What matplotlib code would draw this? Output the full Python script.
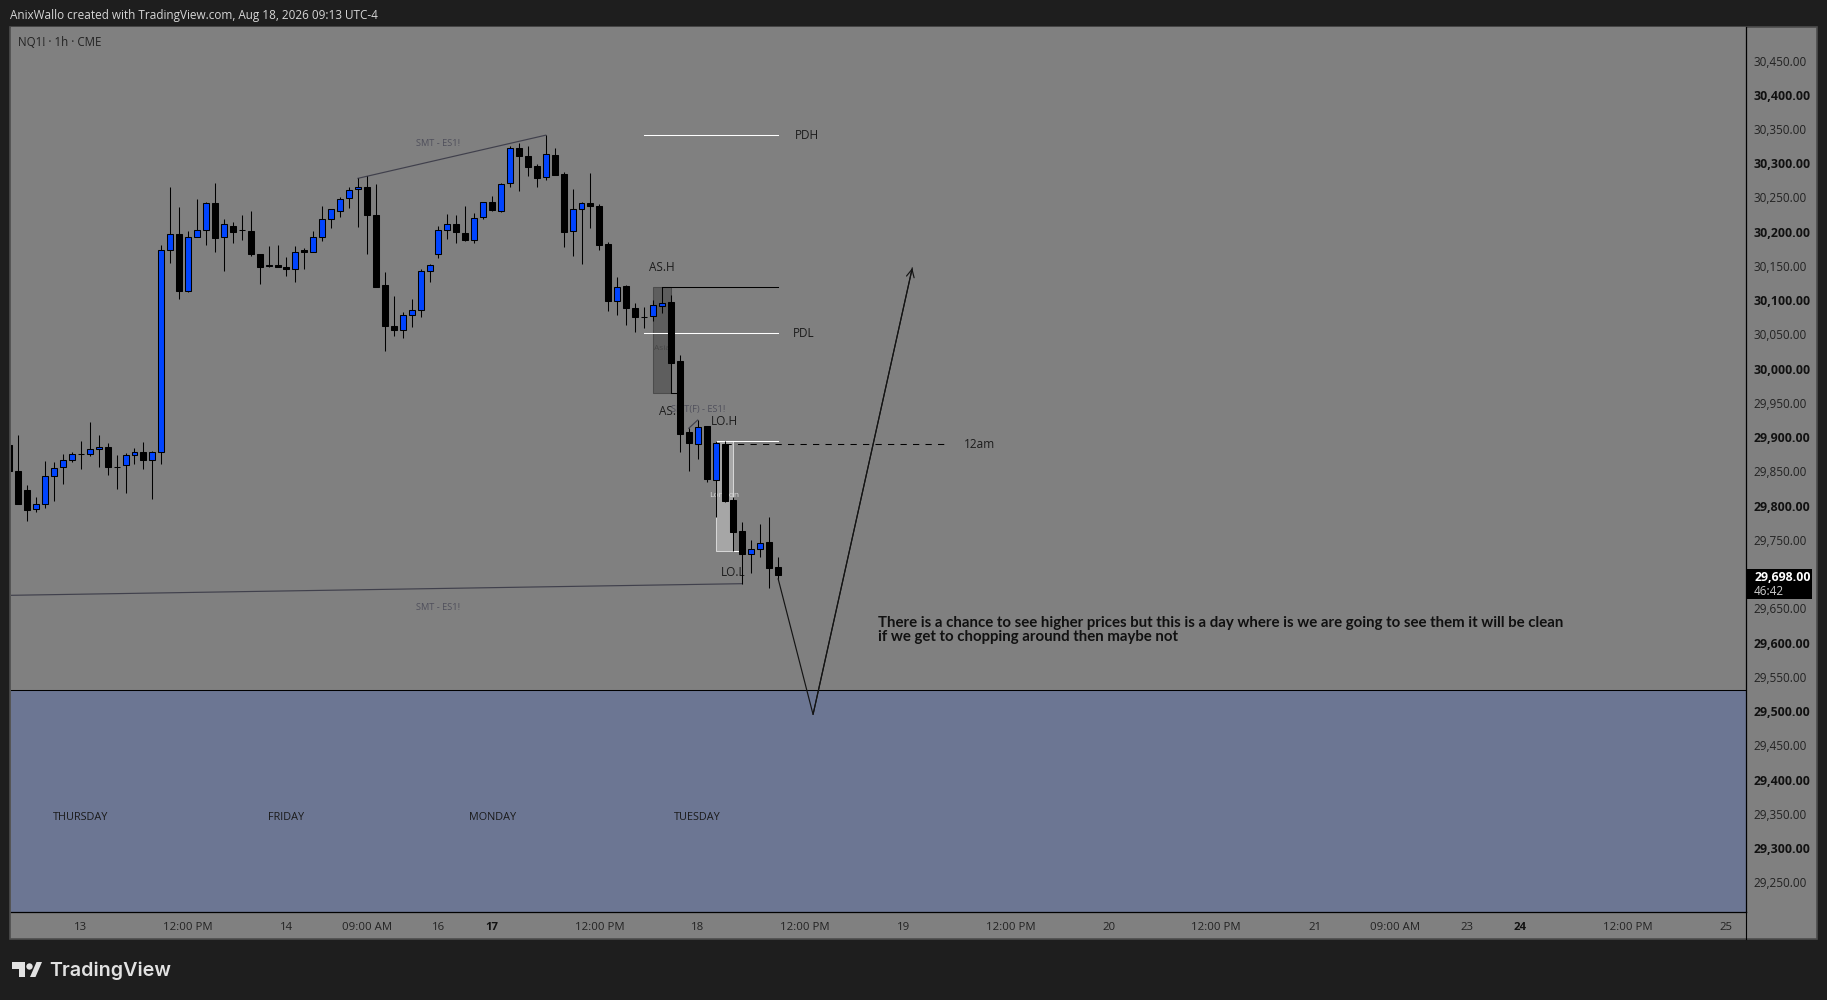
"""
NQ1! 1h candlestick chart with session markup, TradingView screenshot style
"""
import numpy as np
import matplotlib.pyplot as plt
from matplotlib.patches import Rectangle, Polygon

plt.rcParams['font.family'] = ['Open Sans', 'DejaVu Sans']
plt.rcParams['font.size'] = 8.5

# Candles, first one is cut off by the left edge of the chart
opens = [29889, 29851, 29823, 29795, 29802, 29843, 29856, 29866, 29876, 29876, 29882, 29886,
         29857, 29859, 29874, 29879, 29866, 29878, 30173, 30196, 30114, 30192, 30202, 30242,
         30192, 30208, 30202, 30201, 30167, 30150, 30151, 30149, 30145, 30173, 30171, 30192,
         30218, 30231, 30249, 30262, 30266, 30224, 30122, 30063, 30056, 30078, 30085, 30142,
         30167, 30202, 30212, 30198, 30188, 30221, 30244, 30231, 30271, 30322, 30310, 30296,
         30280, 30312, 30284, 30201, 30233, 30242, 30238, 30182, 30099, 30121, 30089, 30076,
         30077, 30091, 30097, 30011, 29908, 29890, 29916, 29838, 29890, 29808, 29763, 29729,
         29736, 29747, 29710]
highs = [29889, 29903, 29830, 29813, 29865, 29864, 29875, 29878, 29894, 29922, 29903, 29892,
         29874, 29877, 29884, 29893, 29880, 30181, 30265, 30236, 30201, 30248, 30243, 30271,
         30219, 30214, 30225, 30230, 30167, 30179, 30181, 30163, 30179, 30176, 30201, 30238,
         30233, 30250, 30265, 30278, 30281, 30270, 30141, 30106, 30083, 30102, 30146, 30153,
         30209, 30226, 30225, 30238, 30228, 30244, 30252, 30271, 30325, 30330, 30325, 30299,
         30341, 30322, 30287, 30263, 30243, 30286, 30240, 30185, 30134, 30122, 30096, 30090,
         30100, 30119, 30108, 30020, 29913, 29925, 29916, 29894, 29894, 29812, 29776, 29750,
         29773, 29784, 29725]
lows = [29850, 29803, 29778, 29790, 29796, 29807, 29832, 29864, 29853, 29873, 29857, 29844,
        29825, 29819, 29861, 29854, 29810, 29861, 30155, 30102, 30112, 30192, 30180, 30171,
        30143, 30184, 30188, 30165, 30123, 30148, 30149, 30136, 30126, 30146, 30170, 30186,
        30206, 30222, 30235, 30207, 30168, 30120, 30026, 30048, 30045, 30061, 30075, 30126,
        30162, 30190, 30184, 30186, 30184, 30219, 30231, 30229, 30266, 30260, 30282, 30266,
        30275, 30283, 30178, 30164, 30153, 30206, 30173, 30084, 30078, 30064, 30053, 30059,
        30069, 30081, 29965, 29879, 29851, 29868, 29834, 29784, 29806, 29733, 29686, 29702,
        29725, 29679, 29693]
closes = [29850, 29803, 29794, 29802, 29843, 29855, 29866, 29876, 29876, 29882, 29885, 29857,
          29857, 29874, 29879, 29866, 29878, 30173, 30196, 30113, 30192, 30202, 30242, 30191,
          30212, 30200, 30202, 30167, 30149, 30152, 30149, 30145, 30171, 30170, 30192, 30218,
          30233, 30248, 30261, 30266, 30225, 30120, 30063, 30056, 30079, 30085, 30142, 30151,
          30202, 30212, 30199, 30188, 30220, 30244, 30232, 30269, 30322, 30310, 30295, 30279,
          30313, 30283, 30200, 30233, 30242, 30237, 30181, 30099, 30120, 30088, 30075, 30076,
          30093, 30096, 30009, 29905, 29891, 29915, 29839, 29891, 29807, 29762, 29730, 29736,
          29745, 29709, 29698]

# Axis labels
price_ticks = [29250 + 50 * i for i in range(25)]
time_ticks = [7, 19, 30, 39, 47, 53, 65, 76, 88, 99, 111, 122, 134, 145, 154, 162, 168, 180, 191]
time_labels = ['13', '12:00 PM', '14', '09:00 AM', '16', '17', '12:00 PM', '18', '12:00 PM', '19',
               '12:00 PM', '20', '12:00 PM', '21', '09:00 AM', '23', '24', '12:00 PM', '25']
bold_times = ['17', '24']

# Day names on the blue zone
day_names = ['THURSDAY', 'FRIDAY', 'MONDAY', 'TUESDAY']
day_bars = [7, 30, 53, 76]
day_price = 29344

# Levels and markup (bar index, price)
zone_top = 29530
pdh_price = 30341
pdl_price = 30052
as_high = 30119
as_low = 29965
lo_high = 29894
lo_low = 29733
midnight = 29890
smt_top_x = [38, 59]
smt_top_y = [30278, 30341]
smt_low_x = [-0.87, 81]
smt_low_y = [29669, 29686]
smt_f_x = [75, 76]
smt_f_y = [29913, 29925]
path_x = [85, 88.9]
path_y = [29693, 29495]
arrow_x = 100
arrow_y = 30147

BG = '#1e1e1e'
PANEL = '#808080'
ZONE = '#6c7693'
BLUE = '#0044ff'
FIG_W, FIG_H = 1827, 1000
THIN = 0.75


def px_box(x0, y0, x1, y1):
    # pixel box (y from the top) to figure fractions
    return [x0 / FIG_W, 1 - y1 / FIG_H, (x1 - x0) / FIG_W, (y1 - y0) / FIG_H]


def px(x, y):
    return (x / FIG_W, 1 - y / FIG_H)


fig = plt.figure(figsize=(FIG_W / 100, FIG_H / 100), dpi=100, facecolor=BG)

# Grey panel behind chart + both axis strips
fig.patches.append(Rectangle((10 / FIG_W, 1 - 939 / FIG_H), 1807 / FIG_W, 912 / FIG_H,
                             transform=fig.transFigure, facecolor=PANEL, edgecolor='#4d4d4d',
                             linewidth=1.2, zorder=-5))

ax = fig.add_axes(px_box(10.5, 27, 1745.5, 912))
ax.set_facecolor(PANEL)
ax.set_xlim(-0.87, 193.2)
ax.set_ylim(29206.5, 30499)
for side in ['top', 'left']:
    ax.spines[side].set_visible(False)
for side in ['right', 'bottom']:
    ax.spines[side].set_color('black')
    ax.spines[side].set_linewidth(0.9)

ax.axhspan(ax.get_ylim()[0], zone_top, color=ZONE, lw=0, zorder=0)
ax.axhline(zone_top, color='black', lw=THIN, zorder=1)

# Session boxes
ax.add_patch(Rectangle((71, as_low), 2, as_high - as_low, facecolor='#5e5e5e', edgecolor='#4c4c4c', lw=THIN, zorder=1))
ax.add_patch(Rectangle((78, lo_low), 2, lo_high - lo_low, facecolor='#a6a6a6', edgecolor='#d6d6d6', lw=THIN, zorder=1))
ax.text(72, 30030, 'Asia', fontsize=6, color='#484848', ha='center', va='center', zorder=1)
ax.text(79, 29815, 'London', fontsize=6, color='#d8d8d8', ha='center', va='center', zorder=1)

# Level lines
ax.plot([70, 85], [pdh_price, pdh_price], color='white', lw=THIN, zorder=2)
ax.plot([70, 85], [pdl_price, pdl_price], color='white', lw=THIN, zorder=2)
ax.plot([72, 85], [as_high, as_high], color='black', lw=THIN, zorder=2)
ax.plot([73, 74], [as_low, as_low], color='black', lw=THIN, zorder=2)
ax.plot([78, 85], [lo_high, lo_high], color='white', lw=THIN, zorder=2)
ax.plot([80, 81], [lo_low, lo_low], color='white', lw=THIN, zorder=2)
ax.plot([79, 103.7], [midnight, midnight], color='black', lw=THIN, ls=(0, (6, 6)), zorder=2)

ax.plot(smt_top_x, smt_top_y, color='#40404c', lw=0.85, zorder=2)
ax.plot(smt_low_x, smt_low_y, color='#40404c', lw=0.85, zorder=2)
ax.plot(smt_f_x, smt_f_y, color='#40404c', lw=0.85, zorder=2)

# Labels that sit behind the candles
label_kw = dict(ha='center', va='center', color='#1c1c1c', fontsize=8.5, zorder=2)
ax.text(72, 30148, 'AS.H', **label_kw)
ax.text(73, 29937, 'AS.L', **label_kw)
ax.text(79, 29923, 'LO.H', **label_kw)
ax.text(80, 29703, 'LO.L', **label_kw)
ax.text(88.2, pdh_price - 1, 'PDH', **label_kw)
ax.text(87.9, pdl_price, 'PDL', **label_kw)
ax.text(107.5, midnight - 1, '12am', **label_kw)
for name, bar in zip(day_names, day_bars):
    ax.text(bar, day_price, name, ha='center', va='center', color='#1a1a1a', fontsize=7.8, zorder=2)

smt_kw = dict(ha='center', va='center', color='#50505c', fontsize=6.7, zorder=2)
ax.text(46.9, 30329, 'SMT - ES1!', **smt_kw)
ax.text(46.9, 29651, 'SMT - ES1!', **smt_kw)
ax.text(76, 29940, 'SMT(F) - ES1!', **smt_kw)

# Candles
bars = np.arange(len(opens)) - 1
opens_a = np.array(opens)
closes_a = np.array(closes)
colors = [BLUE if c > o else 'black' for o, c in zip(opens, closes)]
ax.vlines(bars, lows, highs, color='black', lw=THIN, zorder=3)
ax.bar(bars, closes_a - opens_a, bottom=opens_a, width=0.67, color=colors, edgecolor='black', linewidth=THIN, zorder=4)

# Projected path
ax.plot(path_x + [arrow_x], path_y + [arrow_y], color='#141414', lw=0.85, zorder=5)
ax.annotate('', xy=(arrow_x, arrow_y), xytext=(path_x[1], path_y[1]),
            arrowprops=dict(arrowstyle='->', color='#141414', lw=0.85, mutation_scale=14, shrinkA=0, shrinkB=0), zorder=5)

ax.text(96.2, 29619, 'There is a chance to see higher prices but this is a day where is we are going to see them it will be clean\n'
        'if we get to chopping around then maybe not',
        ha='left', va='center', color='#111111', fontsize=10.85, fontweight='bold', linespacing=1.0,
        family=['Lato', 'DejaVu Sans'], zorder=5)

ax.text(0.0043, 0.9825, 'NQ1! \u00b7 1h \u00b7 CME', transform=ax.transAxes, ha='left', va='center', color='#222222', fontsize=8.3)

# Axis ticks
ax.yaxis.tick_right()
ax.set_yticks(price_ticks)
ax.set_yticklabels([f'{p:,.2f}' for p in price_ticks])
ax.set_xticks(time_ticks)
ax.set_xticklabels(time_labels)
ax.tick_params(axis='both', length=0, labelsize=8.5, labelcolor='#222222')
ax.tick_params(axis='y', pad=6)
ax.tick_params(axis='x', pad=7, labelsize=8.2)
for tick, price in zip(ax.get_yticklabels(), price_ticks):
    if price % 100 == 0:
        tick.set_fontweight('bold')
        tick.set_color('#111111')
        tick.set_fontsize(8.9)
for tick, label in zip(ax.get_xticklabels(), time_labels):
    if label in bold_times:
        tick.set_fontweight('bold')
        tick.set_color('#111111')

# Vertical divider carries on through the time strip
fig.add_artist(plt.Line2D([1745.5 / FIG_W] * 2, [1 - 939 / FIG_H, 1 - 912 / FIG_H], color='black', lw=0.8))

# Last price tag
ytrans = ax.get_yaxis_transform()
ax.add_patch(Rectangle((1.0, 29664), 0.0385, 43, transform=ytrans, facecolor='black', edgecolor='none', clip_on=False, zorder=6))
ax.text(1.0050, closes[-1] - 3, f'{closes[-1]:,.2f}', transform=ytrans, color='white', fontweight='bold',
        fontsize=8.9, ha='left', va='center', clip_on=False, zorder=7)
ax.text(1.0050, 29675, '46:42', transform=ytrans, color='#cfcfcf', fontsize=8.5, ha='left', va='center', clip_on=False, zorder=7)

# Header and logo
fig.text(10 / FIG_W, 1 - 15 / FIG_H, 'AnixWallo created with TradingView.com, Aug 18, 2026 09:13 UTC-4',
         color='#d6d6d6', fontsize=8.5, ha='left', va='center')
logo = '#e2e2e2'
fig.patches.append(Polygon([px(12.3, 962), px(25, 962), px(25, 977), px(18.5, 977), px(18.5, 968.5), px(12.3, 968.5)],
                           closed=True, transform=fig.transFigure, facecolor=logo, edgecolor='none'))
fig.patches.append(Polygon([px(30, 977), px(36.5, 962), px(42, 962), px(35.5, 977)],
                           closed=True, transform=fig.transFigure, facecolor=logo, edgecolor='none'))
dot = plt.Line2D([29.3 / FIG_W], [1 - 965.5 / FIG_H], marker='o', ms=4.6, color=logo, mew=0, transform=fig.transFigure)
fig.add_artist(dot)
fig.text(49 / FIG_W, 1 - 971 / FIG_H, 'TradingView', color=logo, fontsize=14.2, fontweight='semibold',
         ha='left', va='center', family=['Inter', 'DejaVu Sans'])

plt.savefig('out.png', dpi=100, facecolor=BG)
